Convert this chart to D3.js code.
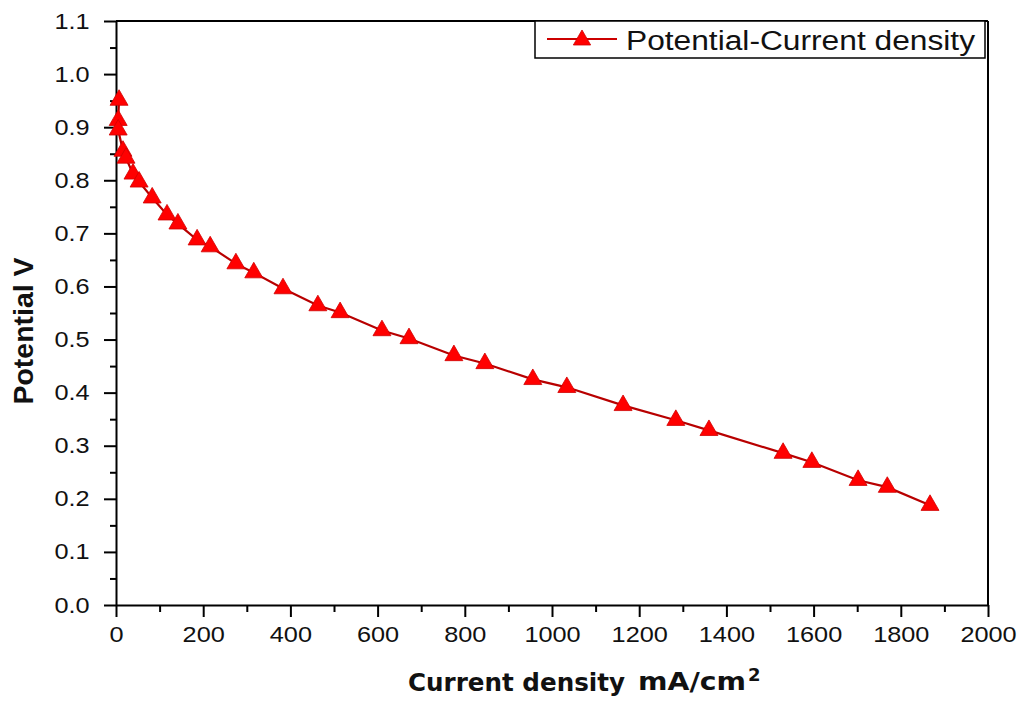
<!DOCTYPE html>
<html><head><meta charset="utf-8">
<script src="https://cdn.jsdelivr.net/npm/d3@7"></script>
<style>body{margin:0;background:#fff}</style>
</head><body><svg id="chart" width="1021" height="706"></svg>
<script>
// ---- data ----
const currentDensity = [7, 5, 5, 16, 23, 39, 53, 83, 117, 142, 186, 216, 275, 316, 383, 463, 514, 610, 672, 775, 846, 956, 1034, 1163, 1284, 1360, 1530, 1596, 1702, 1769, 1867];
const potential = [0.951, 0.913, 0.895, 0.855, 0.842, 0.812, 0.797, 0.767, 0.735, 0.718, 0.688, 0.675, 0.643, 0.626, 0.596, 0.564, 0.551, 0.517, 0.502, 0.470, 0.455, 0.425, 0.410, 0.376, 0.348, 0.329, 0.286, 0.269, 0.235, 0.222, 0.188];
const xMajorTicks = [0, 200, 400, 600, 800, 1000, 1200, 1400, 1600, 1800, 2000];
const xMinorTicks = [100, 300, 500, 700, 900, 1100, 1300, 1500, 1700, 1900];
const yMajorTicks = [0, 0.1, 0.2, 0.3, 0.4, 0.5, 0.6, 0.7, 0.8, 0.9, 1.0, 1.1];
const yMinorTicks = [0.05, 0.15, 0.25, 0.35, 0.45, 0.55, 0.65, 0.75, 0.85, 0.95, 1.05];
const seriesName = "Potential-Current density";
const xTitle = "Current density";
const xUnit = "mA/cm";
const xUnitSup = "2";
const yTitle = "Potential V";

const data = currentDensity.map((c, i) => ({x: c, y: potential[i]}));

const svg = d3.select("#chart");
const P = {l: 116, t: 21, r: 988, b: 605};
const x = d3.scaleLinear().domain([0, 2000]).range([P.l, P.r]);
const y = d3.scaleLinear().domain([0, 1.1]).range([P.b, P.t]);

// frame top/right
svg.append("line").attr("x1", P.l).attr("x2", P.r).attr("y1", P.t).attr("y2", P.t)
  .attr("stroke", "#000").attr("stroke-width", 2);
svg.append("line").attr("x1", P.r).attr("x2", P.r).attr("y1", P.t).attr("y2", P.b)
  .attr("stroke", "#000").attr("stroke-width", 2);

// minor ticks
svg.append("g").attr("transform", `translate(0,${P.b})`)
  .call(d3.axisBottom(x).tickValues(xMinorTicks).tickSize(7).tickSizeOuter(0).tickFormat(""))
  .call(g => g.select(".domain").remove())
  .call(g => g.selectAll("line").attr("stroke-width", 2));
svg.append("g").attr("transform", `translate(${P.l},0)`)
  .call(d3.axisLeft(y).tickValues(yMinorTicks).tickSize(6).tickSizeOuter(0).tickFormat(""))
  .call(g => g.select(".domain").remove())
  .call(g => g.selectAll("line").attr("stroke-width", 2));

// major axes
const gx = svg.append("g").attr("transform", `translate(0,${P.b})`)
  .call(d3.axisBottom(x).tickValues(xMajorTicks).tickSize(12).tickSizeOuter(0).tickPadding(9).tickFormat(d3.format("d")));
const gy = svg.append("g").attr("transform", `translate(${P.l},0)`)
  .call(d3.axisLeft(y).tickValues(yMajorTicks).tickSize(12).tickSizeOuter(0).tickPadding(11).tickFormat(d3.format(".1f")));
[gx, gy].forEach(g => {
  g.select(".domain").attr("stroke-width", 2);
  g.selectAll("line").attr("stroke-width", 2);
  g.selectAll("text").attr("font-family", "Liberation Sans, Arial, sans-serif")
    .attr("font-size", 22).attr("fill", "#111")
    .attr("transform", "scale(1.15,1)");
});

// legend box
svg.append("rect").attr("x", 535).attr("y", P.t).attr("width", 450).attr("height", 37)
  .attr("fill", "#fff").attr("stroke", "#000").attr("stroke-width", 1.5);
svg.append("line").attr("x1", 547).attr("x2", 617).attr("y1", 39).attr("y2", 39)
  .attr("stroke", "#cc0000").attr("stroke-width", 2);
svg.append("path").attr("d", d3.symbol().type(d3.symbolTriangle).size(130)())
  .attr("transform", "translate(582,40)").attr("fill", "#ff0000").attr("stroke", "#d00000").attr("stroke-width", 0.8);
svg.append("text").attr("x", 626).attr("y", 50).text(seriesName)
  .attr("font-family", "Liberation Sans, Arial, sans-serif").attr("font-size", 27).attr("fill", "#111")
  .attr("textLength", 349).attr("lengthAdjust", "spacingAndGlyphs");

// line
svg.append("path").datum(data)
  .attr("d", d3.line().x(d => x(d.x)).y(d => y(d.y)))
  .attr("fill", "none").attr("stroke", "#b80000").attr("stroke-width", 2.2);

// markers
svg.append("g").selectAll("path").data(data).join("path")
  .attr("d", d3.symbol().type(d3.symbolTriangle).size(140)())
  .attr("transform", d => `translate(${x(d.x)},${y(d.y)})`)
  .attr("fill", "#ff0000").attr("stroke", "#d00000").attr("stroke-width", 0.8);

// axis titles
svg.append("text").attr("x", 408).attr("y", 691).text(xTitle)
  .attr("font-family", "DejaVu Sans, sans-serif").attr("font-weight", "bold").attr("font-size", 24).attr("fill", "#111")
  .attr("textLength", 217).attr("lengthAdjust", "spacingAndGlyphs");
svg.append("text").attr("x", 638).attr("y", 690).text(xUnit)
  .attr("font-family", "DejaVu Sans, sans-serif").attr("font-weight", "bold").attr("font-size", 25).attr("fill", "#111")
  .attr("textLength", 108).attr("lengthAdjust", "spacingAndGlyphs");
svg.append("text").attr("x", 748).attr("y", 681).text(xUnitSup)
  .attr("font-family", "DejaVu Sans, sans-serif").attr("font-weight", "bold").attr("font-size", 18).attr("fill", "#111");

svg.append("text").attr("transform", "translate(33,331) rotate(-90)")
  .attr("text-anchor", "middle").text(yTitle)
  .attr("font-family", "Liberation Sans, Arial, sans-serif").attr("font-weight", "bold").attr("font-size", 28).attr("fill", "#111")
  .attr("textLength", 147).attr("lengthAdjust", "spacingAndGlyphs");
</script>
</body></html>
